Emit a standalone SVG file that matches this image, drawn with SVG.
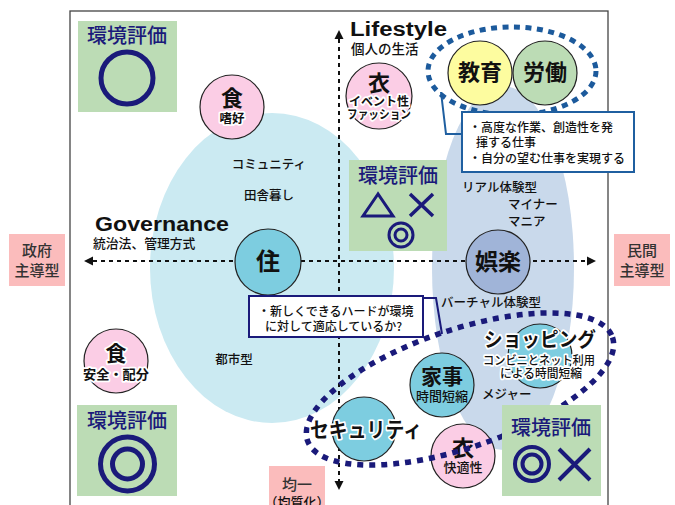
<svg xmlns="http://www.w3.org/2000/svg" width="675" height="505" viewBox="0 0 675 505">
<defs>
<style>
.jp{font-family:"Noto Sans CJK JP","Noto Sans CJK SC",sans-serif;fill:#111;font-weight:500}
.en{font-family:"Liberation Sans",Arial,sans-serif;font-weight:bold;fill:#111}
.lbl{font-size:12.5px}
.c{text-anchor:middle}
.b{font-weight:bold}
.big{font-size:22px;font-weight:bold}
.sub{font-size:12.5px;font-weight:bold}
.eval{fill:#1a1a7a;font-size:20px}
.side{font-size:15px;fill:#333}
.halo{stroke:#fff;stroke-width:3.5px;paint-order:stroke;stroke-linejoin:round}
.node{stroke:#222;stroke-width:1.2}
.pink{fill:#fbcde5}
.cyan{fill:#7dcde0}
.green{fill:#bcdcb5}
.sym{fill:none;stroke:#1a1a7a}
.axis{fill:none;stroke:#111;stroke-width:2;stroke-dasharray:4 4}
</style>
<marker id="arr" viewBox="0 0 10 10" refX="0" refY="5" markerUnits="userSpaceOnUse" markerWidth="9" markerHeight="10" orient="auto-start-reverse">
<path d="M0,0 L10,5 L0,10 z" fill="#111"/>
</marker>
</defs>
<rect width="675" height="505" fill="#fff"/>
<rect x="70" y="11" width="538" height="520" fill="none" stroke="#444" stroke-width="1.3"/>

<g id="regions">
<ellipse cx="272" cy="268" rx="122" ry="155" fill="#cbeaf2"/>
<ellipse cx="503" cy="268" rx="71" ry="182" fill="#c9d9eb"/>
</g>

<g id="connectors">
<line class="axis" x1="93" y1="261" x2="587" y2="261" marker-start="url(#arr)" marker-end="url(#arr)"/>
<line class="axis" x1="339" y1="39" x2="339" y2="481" marker-start="url(#arr)" marker-end="url(#arr)"/>
<polyline points="441,92 446,134 462,134" fill="none" stroke="#1f5fa0" stroke-width="2"/>
<polyline points="423,298 436,298 442,334" fill="none" stroke="#1a1a7a" stroke-width="2"/>
</g>

<g id="axis-labels">
<text class="en" x="350" y="36" font-size="20" textLength="97" lengthAdjust="spacingAndGlyphs">Lifestyle</text>
<text class="jp" x="351" y="54" font-size="13.5">個人の生活</text>
<text class="en" x="95" y="231" font-size="21" textLength="134" lengthAdjust="spacingAndGlyphs">Governance</text>
<text class="jp" x="93" y="248" font-size="12.8">統治法、管理方式</text>
</g>

<g id="side-gov">
<rect x="9" y="234" width="56" height="52" fill="#fbbcbc"/>
<text class="jp side c" x="37" y="256">政府</text>
<text class="jp side c" x="37" y="276">主導型</text>
</g>
<g id="side-private">
<rect x="614" y="234" width="56" height="52" fill="#fbbcbc"/>
<text class="jp side c" x="642" y="256">民間</text>
<text class="jp side c" x="642" y="276">主導型</text>
</g>
<g id="side-uniform">
<rect x="269" y="466" width="56" height="50" fill="#fbbcbc"/>
<text class="jp side c" x="297" y="490">均一</text>
<text class="jp c" x="297" y="507" font-size="13" fill="#333">（均質化）</text>
</g>

<g id="region-labels">
<text class="jp lbl c" x="269" y="169">コミュニティ</text>
<text class="jp lbl c" x="269" y="200">田舎暮し</text>
<text class="jp lbl c" x="234" y="364">都市型</text>
<text class="jp lbl" x="462" y="192">リアル体験型</text>
<text class="jp lbl" x="508" y="209">マイナー</text>
<text class="jp lbl" x="508" y="226">マニア</text>
<text class="jp lbl" x="441" y="307">バーチャル体験型</text>
<text class="jp lbl" x="482" y="399">メジャー</text>
</g>

<g id="eval-tl">
<rect x="78" y="21" width="99" height="91" class="green"/>
<text class="jp eval c" x="127" y="43">環境評価</text>
<circle cx="127" cy="78" r="26" class="sym" stroke-width="5"/>
</g>

<g id="food-taste">
<circle cx="232" cy="107" r="32" class="node pink"/>
<text class="jp big c" x="232" y="106">食</text>
<text class="jp sub c halo" x="232" y="123">嗜好</text>
</g>

<g id="clothes-event">
<circle cx="379" cy="96" r="33" class="node pink"/>
<text class="jp big c" x="379" y="91">衣</text>
<text class="jp c b halo" x="379" y="106" font-size="12">イベント性</text>
<text class="jp c b halo" x="379" y="119" font-size="12" textLength="64" lengthAdjust="spacingAndGlyphs">ファッション</text>
</g>

<g id="work-group">
<ellipse cx="512" cy="71" rx="84" ry="44" fill="none" stroke="#1c5a9c" stroke-width="5" stroke-dasharray="6 5.5"/>
</g>
<g id="education">
<circle cx="480" cy="73" r="32" class="node" fill="#fdfc9f"/>
<text class="jp big c" x="480" y="80">教育</text>
</g>
<g id="labor">
<circle cx="545" cy="73" r="32" class="node green"/>
<text class="jp big c" x="545" y="80">労働</text>
</g>
<g id="callout-work">
<rect x="462" y="112" width="172" height="60" fill="#fff" stroke="#1f5fa0" stroke-width="2"/>
<text class="jp" x="469" y="132" font-size="12">・高度な作業、創造性を発</text>
<text class="jp" x="476" y="147" font-size="12">揮する仕事</text>
<text class="jp" x="469" y="163" font-size="12">・自分の望む仕事を実現する</text>
</g>

<g id="eval-center">
<rect x="349" y="160" width="98" height="91" class="green"/>
<text class="jp eval c" x="398" y="183">環境評価</text>
<polygon points="378,194 363,216 393,216" class="sym" stroke-width="3"/>
<path d="M410,194 L433,216 M433,194 L410,216" class="sym" stroke-width="3.5"/>
<circle cx="401" cy="235" r="12" class="sym" stroke-width="3"/>
<circle cx="401" cy="235" r="6" class="sym" stroke-width="3"/>
</g>

<g id="housing">
<circle cx="268" cy="262" r="33" class="node cyan"/>
<text class="jp c b" x="268" y="270" font-size="24">住</text>
</g>

<g id="entertainment">
<circle cx="498" cy="262" r="32" class="node" fill="#a0b4d8"/>
<text class="jp c b" x="498" y="270" font-size="23">娯楽</text>
</g>

<g id="callout-hard">
<rect x="249" y="296" width="174" height="41" fill="#fff" stroke="#1a1a7a" stroke-width="2"/>
<text class="jp" x="258" y="316" font-size="12">・新しくできるハードが環境</text>
<text class="jp" x="265" y="331" font-size="12">に対して適応しているか?</text>
</g>

<g id="food-safety">
<circle cx="116" cy="361" r="32" class="node pink"/>
<text class="jp c b halo" x="116" y="361" font-size="21">食</text>
<text class="jp c b halo" x="116" y="379" font-size="13" textLength="66" lengthAdjust="spacingAndGlyphs">安全・配分</text>
</g>

<g id="eval-bl">
<rect x="77" y="405" width="100" height="91" class="green"/>
<text class="jp eval c" x="127" y="428">環境評価</text>
<circle cx="127.5" cy="464" r="27" class="sym" stroke-width="5"/>
<circle cx="127.5" cy="464" r="15" class="sym" stroke-width="5"/>
</g>

<g id="housework">
<circle cx="442" cy="385" r="32" class="node cyan"/>
<text class="jp c b" x="442" y="384" font-size="21">家事</text>
<text class="jp c" x="442" y="401" font-size="13">時間短縮</text>
</g>

<g id="shopping-circle">
<circle cx="540" cy="356" r="32" class="node cyan"/>
</g>

<g id="security-circle">
<circle cx="364" cy="429" r="32" class="node cyan"/>
</g>

<g id="clothes-comfort">
<circle cx="463" cy="456" r="32" class="node pink"/>
<text class="jp big c" x="463" y="456">衣</text>
<text class="jp c" x="463" y="472" font-size="13">快適性</text>
</g>

<g id="convenience-group">
<ellipse cx="460" cy="389" rx="161" ry="59" transform="rotate(-18.7 460 389)" fill="none" stroke="#1a1a7a" stroke-width="5.5" stroke-dasharray="6 6"/>
</g>

<g id="security">
<text class="jp c b halo" x="366" y="437" font-size="21" textLength="112" lengthAdjust="spacingAndGlyphs">セキュリティ</text>
</g>

<g id="shopping">
<text class="jp c b halo" x="540" y="347" font-size="20" textLength="112" lengthAdjust="spacingAndGlyphs">ショッピング</text>
<text class="jp c halo" x="539" y="365" font-size="12" textLength="112" lengthAdjust="spacingAndGlyphs">コンビニとネット利用</text>
<text class="jp c halo" x="541" y="378" font-size="12" textLength="82" lengthAdjust="spacingAndGlyphs">による時間短縮</text>
</g>

<g id="eval-br">
<rect x="502" y="405" width="99" height="91" class="green"/>
<text class="jp eval c" x="551" y="435">環境評価</text>
<circle cx="532" cy="464" r="17" class="sym" stroke-width="4"/>
<circle cx="532" cy="464" r="9.5" class="sym" stroke-width="4"/>
<path d="M559,449 L590,480 M590,449 L559,480" class="sym" stroke-width="4"/>
</g>
</svg>
